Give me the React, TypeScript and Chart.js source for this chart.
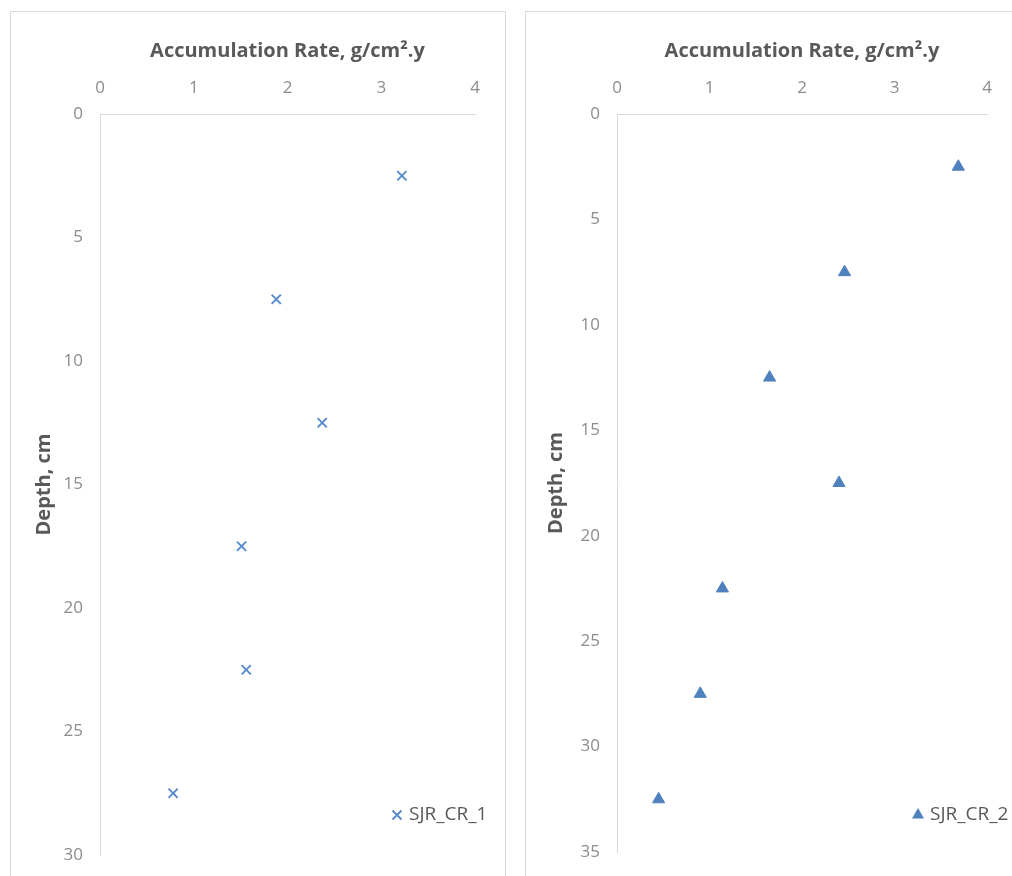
import React, { useEffect, useRef } from 'react';
import { Chart, registerables } from 'chart.js';

Chart.register(...registerables);

// ---- data ----
const xAxisTitle = 'Accumulation Rate, g/cm².y';
const yAxisTitle = 'Depth, cm';

const series1Name = 'SJR_CR_1';
const series1Depth = [2.5, 7.5, 12.5, 17.5, 22.5, 27.5];
const series1Rate = [3.22, 1.88, 2.37, 1.51, 1.56, 0.78];

const series2Name = 'SJR_CR_2';
const series2Depth = [2.5, 7.5, 12.5, 17.5, 22.5, 27.5, 32.5];
const series2Rate = [3.69, 2.46, 1.65, 2.4, 1.14, 0.9, 0.45];

const rateMin = 0;
const rateMax = 4;
const rateStep = 1;
const depthStep = 5;
const depthMax1 = 30;
const depthMax2 = 35;

const FONT = "'Open Sans', 'Noto Sans', sans-serif";
const BLUE = '#4f81bd';
const CROSS_BLUE = '#5a8ccc';
const TITLE_COLOR = '#595959';
const TICK_COLOR = '#8c8c8c';
const AXIS_COLOR = '#d9d9d9';

const insideLegend = {
  id: 'insideLegend',
  afterDatasetsDraw(chart: any, _args: any, opts: any) {
    const { ctx, chartArea } = chart;
    const ds = chart.data.datasets[0];
    const x = chartArea.right - opts.dx;
    const y = chartArea.bottom - opts.dy;
    ctx.save();
    if (opts.marker === 'cross') {
      const h = 4.5;
      ctx.strokeStyle = CROSS_BLUE;
      ctx.lineWidth = 2;
      ctx.beginPath();
      ctx.moveTo(x - h, y - h);
      ctx.lineTo(x + h, y + h);
      ctx.moveTo(x + h, y - h);
      ctx.lineTo(x - h, y + h);
      ctx.stroke();
    } else {
      const r = 7;
      ctx.fillStyle = BLUE;
      ctx.beginPath();
      for (let i = 0; i < 3; i++) {
        const a = (i * 2 * Math.PI) / 3;
        const px = x + Math.sin(a) * r;
        const py = y - Math.cos(a) * r;
        if (i === 0) ctx.moveTo(px, py);
        else ctx.lineTo(px, py);
      }
      ctx.closePath();
      ctx.fill();
    }
    ctx.font = `19px ${FONT}`;
    ctx.fillStyle = TITLE_COLOR;
    ctx.textBaseline = 'middle';
    ctx.textAlign = 'left';
    ctx.fillText(ds.label, x + opts.gap, y);
    ctx.restore();
  },
};

function makeConfig(p: {
  name: string;
  depth: number[];
  rate: number[];
  depthMax: number;
  pointStyle: string;
  pointRadius: number;
  color: string;
  yWidth: number;
  yTitlePad: number;
  padRight: number;
  padBottom: number;
  legend: any;
}): any {
  return {
    type: 'scatter',
    data: {
      datasets: [
        {
          label: p.name,
          data: p.depth.map((d, i) => ({ x: p.rate[i], y: d })),
          pointStyle: p.pointStyle,
          pointRadius: p.pointRadius,
          borderWidth: p.pointStyle === 'crossRot' ? 2 : 1,
          borderColor: p.color,
          backgroundColor: p.color,
          showLine: false,
        },
      ],
    },
    options: {
      responsive: false,
      animation: false,
      layout: { padding: { left: 0, top: 0, right: p.padRight, bottom: p.padBottom } },
      plugins: {
        legend: { display: false },
        tooltip: { enabled: false },
        insideLegend: p.legend,
      },
      scales: {
        x: {
          type: 'linear',
          position: 'top',
          min: rateMin,
          max: rateMax,
          ticks: { stepSize: rateStep, padding: 16, color: TICK_COLOR, font: { family: FONT, size: 17 } },
          grid: { display: false, drawTicks: false },
          border: { display: true, color: AXIS_COLOR, width: 1 },
          title: {
            display: true,
            text: xAxisTitle,
            color: TITLE_COLOR,
            font: { family: FONT, size: 20, weight: 'bold' },
            padding: { top: 28, bottom: 0 },
          },
          afterFit: (s: any) => {
            s.height = 103;
            s.paddingLeft = 0;
            s.paddingRight = 0;
            s.paddingTop = 0;
            s.paddingBottom = 0;
          },
        },
        y: {
          type: 'linear',
          position: 'left',
          reverse: true,
          min: 0,
          max: p.depthMax,
          ticks: { stepSize: depthStep, padding: 17, color: TICK_COLOR, font: { family: FONT, size: 17 } },
          grid: { display: false, drawTicks: false },
          border: { display: true, color: AXIS_COLOR, width: 1 },
          title: {
            display: true,
            text: yAxisTitle,
            color: TITLE_COLOR,
            font: { family: FONT, size: 20, weight: 'bold' },
            padding: { top: p.yTitlePad, bottom: 0 },
          },
          afterFit: (s: any) => {
            s.width = p.yWidth;
            s.paddingLeft = 0;
            s.paddingRight = 0;
            s.paddingTop = 0;
            s.paddingBottom = 0;
          },
        },
      },
    },
    plugins: [insideLegend],
  };
}

function ChartCanvas(props: { config: any; left: number; width: number }) {
  const ref = useRef<HTMLCanvasElement | null>(null);
  useEffect(() => {
    if (!ref.current) return;
    const chart = new Chart(ref.current, props.config);
    return () => chart.destroy();
  }, []);
  return (
    <canvas
      ref={ref}
      width={props.width}
      height={865}
      style={{ position: 'absolute', left: props.left, top: 11, width: props.width, height: 865 }}
    />
  );
}

export default function App() {
  const cfg1 = makeConfig({
    name: series1Name,
    depth: series1Depth,
    rate: series1Rate,
    depthMax: depthMax1,
    pointStyle: 'crossRot',
    pointRadius: 6.5,
    color: CROSS_BLUE,
    yWidth: 90,
    yTitlePad: 22,
    padRight: 31,
    padBottom: 21,
    legend: { dx: 78, dy: 40, gap: 12, marker: 'cross' },
  });
  const cfg2 = makeConfig({
    name: series2Name,
    depth: series2Depth,
    rate: series2Rate,
    depthMax: depthMax2,
    pointStyle: 'triangle',
    pointRadius: 7,
    color: BLUE,
    yWidth: 92,
    yTitlePad: 19,
    padRight: 30,
    padBottom: 24,
    legend: { dx: 69, dy: 37, gap: 12, marker: 'triangle' },
  });
  return (
    <div
      style={{
        position: 'fixed',
        left: 0,
        top: 0,
        width: 1012,
        height: 876,
        overflow: 'hidden',
        background: '#ffffff',
      }}
    >
      <div
        style={{
          position: 'absolute',
          left: 10,
          top: 11,
          width: 496,
          height: 900,
          border: '1px solid #d9d9d9',
          boxSizing: 'border-box',
        }}
      />
      <div
        style={{
          position: 'absolute',
          left: 525,
          top: 11,
          width: 500,
          height: 900,
          border: '1px solid #d9d9d9',
          boxSizing: 'border-box',
        }}
      />
      <ChartCanvas config={cfg1} left={10} width={496} />
      <ChartCanvas config={cfg2} left={525} width={492} />
    </div>
  );
}
